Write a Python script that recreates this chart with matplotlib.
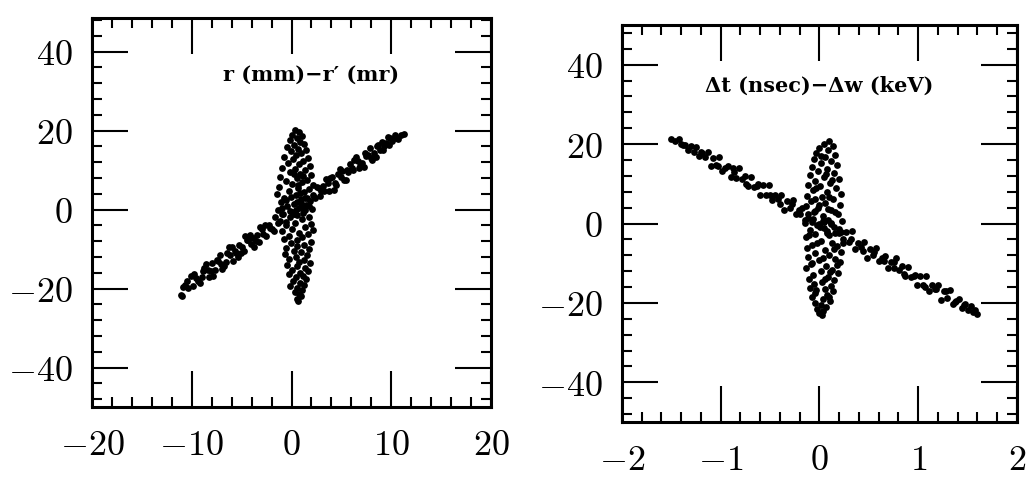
import numpy as np
import matplotlib.pyplot as plt
from matplotlib.ticker import MultipleLocator, FuncFormatter

plt.rcParams['mathtext.fontset'] = 'cm'

# left panel: r (mm) vs r' (mr)
band_l_x = [-11.1, -11.0, -10.9, -10.7, -10.5, -10.4, -10.1, -9.9, -9.8, -9.6, -9.4, -9.2,
            -9.0, -8.9, -8.8, -8.6, -8.4, -8.3, -8.1, -8.0, -7.9, -7.7, -7.5, -7.4,
            -7.2, -7.1, -7.0, -6.8, -6.6, -6.5, -6.3, -6.2, -6.0, -5.9, -5.7, -5.6,
            -5.4, -5.3, -5.1, -5.0, -4.8, -4.7, -4.5, -4.4, -4.2, -4.1, -3.9, -3.8,
            -3.6, -3.5, -3.3, -3.2, -3.0, -2.9, -2.7, -2.6, -2.3, -2.2, -2.0, -1.8,
            -1.7, -1.4, -1.0, -0.6, -0.2, 0.2, 0.6, 1.0, 1.4, 1.8, 2.2, 2.4,
            2.6, 2.8, 2.9, 3.0, 3.2, 3.3, 3.5, 3.7, 3.8, 3.9, 4.1, 4.3,
            4.4, 4.5, 4.7, 4.9, 5.0, 5.1, 5.3, 5.5, 5.6, 5.7, 5.9, 6.1,
            6.2, 6.3, 6.5, 6.7, 6.8, 6.9, 7.1, 7.3, 7.4, 7.5, 7.7, 7.9,
            8.0, 8.1, 8.3, 8.5, 8.6, 8.7, 8.9, 9.1, 9.2, 9.3, 9.5, 9.7,
            9.8, 9.9, 10.1, 10.4, 10.5, 10.7, 11.0, 11.3]
band_l_y = [-21.6, -21.8, -19.5, -19.0, -18.1, -19.8, -16.7, -19.4, -16.2, -17.4, -18.2, -18.6,
            -17.0, -15.6, -14.8, -13.9, -15.4, -17.2, -15.6, -13.5, -16.9, -15.4, -12.8, -13.1,
            -11.5, -13.7, -15.1, -14.3, -13.3, -11.1, -9.6, -11.4, -9.6, -13.1, -10.4, -11.1,
            -11.9, -9.0, -11.1, -9.4, -10.4, -6.8, -7.7, -7.6, -6.5, -8.6, -7.3, -9.4,
            -8.0, -6.4, -8.2, -4.5, -4.9, -6.1, -4.0, -6.7, -4.0, -4.6, -5.0, -5.4,
            -1.9, -3.3, -1.1, -3.2, -0.4, -1.2, 2.0, 0.7, 2.9, 0.9, 3.7, 2.8,
            5.8, 5.4, 3.5, 4.6, 6.0, 4.8, 7.8, 6.6, 4.8, 8.1, 8.2, 5.0,
            6.6, 6.3, 8.9, 10.2, 8.3, 9.7, 7.6, 7.5, 9.9, 9.6, 11.6, 10.6,
            10.0, 12.6, 13.3, 12.4, 10.4, 11.0, 11.9, 10.9, 14.2, 13.6, 13.7, 15.5,
            13.0, 12.6, 14.3, 13.2, 16.0, 16.3, 15.2, 17.1, 15.0, 16.2, 16.8, 18.3,
            16.3, 18.2, 17.3, 18.9, 18.1, 17.8, 19.0, 19.2]

core_l_x = [0.3, 0.8, 0.0, 1.1, 0.5, -0.2, 0.9, 1.3, 0.2, -0.5, 0.7, 1.5, -0.1, 1.0, 0.4,
            -0.8, 1.7, 0.1, 1.2, -0.4, 0.8, 1.9, -1.0, 0.3, 1.4, -0.2, 0.9, 2.0, -1.2, 0.5,
            1.6, -0.6, 1.1, 0.0, 2.2,
            -1.3, 0.7, 1.8, -0.3, 1.3, -1.5, 0.4, 2.3, -0.8, 1.0, 1.9, -1.1, 0.2, 1.5, -0.5,
            0.8, 2.1, -1.4, 0.0, 1.2, -0.9, 0.6, 1.8, -0.2,
            0.4, 1.0, -0.6, 1.6, 0.9, -0.1, 0.3, 1.4, -1.0, 0.7, 1.2, 0.2,
            1.1, -1.2, 0.3, 2.0, -0.6, 1.4, 0.0, 2.2, -1.0, 0.8, 1.7, -0.3, 1.1, -0.8, 0.5,
            2.0, -0.1, 1.3, 0.6, -0.6, 1.8,
            0.2, 1.0, -0.7, 1.6, 0.4, -0.3, 1.3, 0.8, 1.9, -0.5, 0.6, 1.4, 0.0, 1.7, 0.9,
            -0.3, 1.2, 0.4, 1.5,
            0.1, 0.9, 1.3, -0.2, 0.6, 1.1, 0.3, 0.8, 1.0, 0.5, 0.7]
core_l_y = [20.2, 19.6, 19.0, 18.5, 18.1, 17.6, 17.2, 16.5, 16.3, 15.8, 15.4, 15.0, 14.7, 14.2, 13.8,
            13.4, 13.1, 12.7, 12.3, 11.9, 11.5, 11.0, 10.6, 10.3, 9.9, 9.5, 9.1, 8.7, 8.3, 8.0,
            7.6, 7.2, 6.9, 6.5, 6.1,
            5.8, 5.5, 5.1, 4.8, 4.4, 4.0, 3.7, 3.3, 3.0, 2.7, 2.2, 1.9, 1.5, 1.2, 0.8,
            0.5, 0.1, -0.2, -0.5, -0.8, -1.1, -1.5, -1.8, -2.0,
            0.0, 1.7, 2.4, 3.0, 4.1, 3.1, -1.0, -0.2, 0.3, 6.2, 8.4, 9.0,
            -2.5, -2.9, -3.3, -3.6, -4.0, -4.4, -4.8, -5.1, -5.5, -5.9, -6.3, -6.6, -7.0, -7.4, -7.8,
            -8.1, -8.5, -8.9, -9.3, -9.7, -10.0,
            -10.4, -10.8, -11.2, -11.6, -12.0, -12.4, -12.8, -13.2, -13.6, -14.0, -14.4, -14.8, -15.2, -15.6, -16.0,
            -16.4, -16.8, -17.2, -17.6,
            -18.0, -18.5, -19.0, -19.4, -19.9, -20.4, -20.9, -21.4, -22.0, -22.6, -23.1]

# right panel: dt (nsec) vs dw (keV)
band_r_x = [-1.50, -1.46, -1.42, -1.40, -1.38, -1.36, -1.33, -1.30, -1.27, -1.25, -1.22, -1.20,
            -1.19, -1.16, -1.13, -1.10, -1.08, -1.05, -1.03, -1.02, -0.99, -0.96, -0.93, -0.90,
            -0.88, -0.87, -0.84, -0.81, -0.78, -0.75, -0.74, -0.72, -0.69, -0.66, -0.63, -0.62,
            -0.60, -0.57, -0.54, -0.51, -0.50, -0.48, -0.45, -0.42, -0.40, -0.39, -0.36, -0.33,
            -0.30, -0.28, -0.27, -0.24, -0.21, -0.20, -0.18, -0.15, -0.12, -0.08, -0.04, 0.00,
            0.04, 0.08, 0.12, 0.16, 0.20, 0.22, 0.24, 0.27, 0.30, 0.32, 0.33, 0.36,
            0.39, 0.42, 0.44, 0.45, 0.48, 0.51, 0.54, 0.55, 0.57, 0.60, 0.63, 0.65,
            0.66, 0.69, 0.72, 0.75, 0.76, 0.78, 0.81, 0.84, 0.86, 0.87, 0.90, 0.93,
            0.96, 0.97, 0.99, 1.02, 1.05, 1.07, 1.08, 1.11, 1.14, 1.17, 1.18, 1.20,
            1.23, 1.26, 1.28, 1.29, 1.32, 1.35, 1.37, 1.38, 1.41, 1.44, 1.46, 1.47,
            1.50, 1.53, 1.56, 1.58, 1.60]
band_r_y = [21.4, 20.7, 21.4, 20.1, 19.7, 19.9, 18.5, 19.5, 18.1, 19.2, 17.1, 18.1,
            17.8, 16.8, 17.9, 14.5, 16.4, 14.7, 14.5, 16.7, 13.3, 14.0, 14.6, 11.6,
            14.1, 13.1, 11.4, 14.1, 11.2, 11.9, 9.9, 9.5, 11.8, 9.3, 9.5, 10.0,
            7.2, 9.7, 7.2, 9.6, 7.3, 5.8, 7.2, 6.2, 5.0, 7.3, 3.5, 5.7,
            4.0, 4.9, 6.0, 2.5, 3.3, 2.3, 3.9, 0.8, 2.4, 0.5, 3.1, 0.0,
            0.6, -1.9, 0.2, -2.4, -2.3, -2.1, -4.8, -2.2, -4.6, -3.9, -2.0, -6.3,
            -4.8, -5.8, -6.8, -4.7, -8.6, -6.3, -8.0, -7.3, -6.1, -9.5, -8.7, -9.5,
            -8.1, -11.2, -9.6, -11.3, -9.6, -8.7, -11.6, -10.8, -12.6, -13.2, -11.0, -13.4,
            -13.2, -12.9, -15.6, -13.1, -15.5, -15.9, -13.1, -17.0, -15.5, -16.5, -16.4, -15.5,
            -19.3, -17.0, -17.1, -18.8, -16.8, -20.2, -19.7, -19.4, -18.9, -21.3, -20.5, -20.3,
            -21.8, -20.8, -22.3, -21.9, -22.8]

core_r_x = [0.10, 0.05, 0.14, 0.00, 0.09, -0.03, 0.16, 0.06, -0.06, 0.12, 0.02, 0.18, -0.08, 0.08,
            -0.01, 0.15, -0.10, 0.05, 0.20, -0.04, 0.11, -0.12, 0.01, 0.17, -0.07, 0.08, 0.22,
            -0.13, 0.03, 0.14, -0.09, 0.06, 0.21, -0.14, -0.01, 0.12, -0.06, 0.19, 0.04, -0.12,
            0.09, 0.23, -0.15, -0.02, 0.15, 0.05, -0.10, 0.20, -0.04, 0.10, -0.14, 0.24, 0.02,
            0.13, -0.08, 0.18, -0.13, 0.06, 0.22, -0.05, 0.10, -0.12, 0.16, 0.00, 0.21, -0.09,
            0.07, -0.14, 0.13, 0.02, 0.19, -0.07, 0.09, -0.11, 0.15, 0.03, -0.06, 0.12, -0.10,
            0.06, 0.14, -0.04, 0.08, -0.08, 0.04, 0.11, -0.05, 0.02, 0.07, -0.02, 0.04, 0.00, 0.03,
            0.05, 0.12, -0.07, 0.16, 0.00, 0.10, -0.03, 0.13, 0.07, 0.02, 0.08, -0.02, 0.15,
            0.04, -0.08, 0.11, 0.06, -0.03, 0.10, 0.01, 0.18, -0.11, 0.09, -0.05, 0.20]
core_r_y = [20.8, 20.1, 19.5, 19.0, 18.4, 17.8, 17.3, 16.8, 16.2, 15.7, 15.2, 14.7, 14.2, 13.8,
            13.2, 12.7, 12.2, 11.8, 11.3, 10.8, 10.3, 9.8, 9.4, 8.9, 8.4, 8.0, 7.5,
            7.0, 6.6, 6.1, 5.6, 5.2, 4.7, 4.3, 3.8, 3.3, 2.9, 2.4, 2.0, 1.5,
            1.0, 0.6, 0.1, -0.3, -0.8, -1.2, -1.7, -2.1, -2.6, -3.0, -3.5, -3.9, -4.4,
            -4.8, -5.3, -5.7, -6.2, -6.6, -7.1, -7.5, -8.0, -8.4, -8.9, -9.3, -9.8, -10.2,
            -10.7, -11.1, -11.6, -12.0, -12.5, -12.9, -13.4, -13.9, -14.3, -14.8, -15.3, -15.7, -16.2,
            -16.6, -17.1, -17.5, -18.0, -18.5, -19.0, -19.5, -20.0, -20.5, -21.0, -21.5, -22.0, -22.6, -23.0,
            0.5, -0.2, 1.2, 2.9, 4.6, 6.8, 9.0, 10.9, 12.5, 17.0, -2.3, -4.9, -6.3,
            -8.6, -9.9, -12.2, -14.0, -16.8, -18.6, -1.0, -10.5, -3.0, 3.7, 6.1, -1.5]

fig = plt.figure(figsize=(10.27, 4.80), dpi=100)
ax1 = fig.add_axes([0.0896, 0.152, 0.3885, 0.8105])
ax2 = fig.add_axes([0.6056, 0.1208, 0.3846, 0.8271])

fmt = FuncFormatter(lambda v, p: '$%g$' % v)

def style(ax, xmaj, xmin):
    ax.xaxis.set_major_locator(MultipleLocator(xmaj))
    ax.xaxis.set_minor_locator(MultipleLocator(xmin))
    ax.yaxis.set_major_locator(MultipleLocator(20))
    ax.yaxis.set_minor_locator(MultipleLocator(4))
    ax.xaxis.set_major_formatter(fmt)
    ax.yaxis.set_major_formatter(fmt)
    ax.tick_params(which='both', direction='in', top=True, right=True, width=1.5, color='black')
    ax.tick_params(which='major', length=26, labelsize=26)
    ax.tick_params(which='minor', length=7)
    ax.tick_params(axis='x', which='major', pad=15)
    ax.tick_params(axis='y', which='major', pad=14)
    for s in ax.spines.values():
        s.set_linewidth(2.2)

ax1.scatter(band_l_x, band_l_y, s=24, c='black', linewidths=0)
ax1.scatter(core_l_x, core_l_y, s=24, c='black', linewidths=0)
ax1.set_xlim(-20, 20)
ax1.set_ylim(-50, 48.5)
style(ax1, 10, 2)
ax1.text(2, 34, 'r (mm)\u2212r\u2032 (mr)', ha='center', va='center',
         fontsize=15, fontweight='bold', family='DejaVu Serif')

ax2.scatter(band_r_x, band_r_y, s=24, c='black', linewidths=0)
ax2.scatter(core_r_x, core_r_y, s=24, c='black', linewidths=0)
ax2.set_xlim(-2, 2)
ax2.set_ylim(-50, 50)
style(ax2, 1, 0.2)
ax2.text(0, 34.7, '\u0394t (nsec)\u2212\u0394w (keV)', ha='center', va='center',
         fontsize=15, fontweight='bold', family='DejaVu Serif')

fig.savefig('out.png', dpi=100)
